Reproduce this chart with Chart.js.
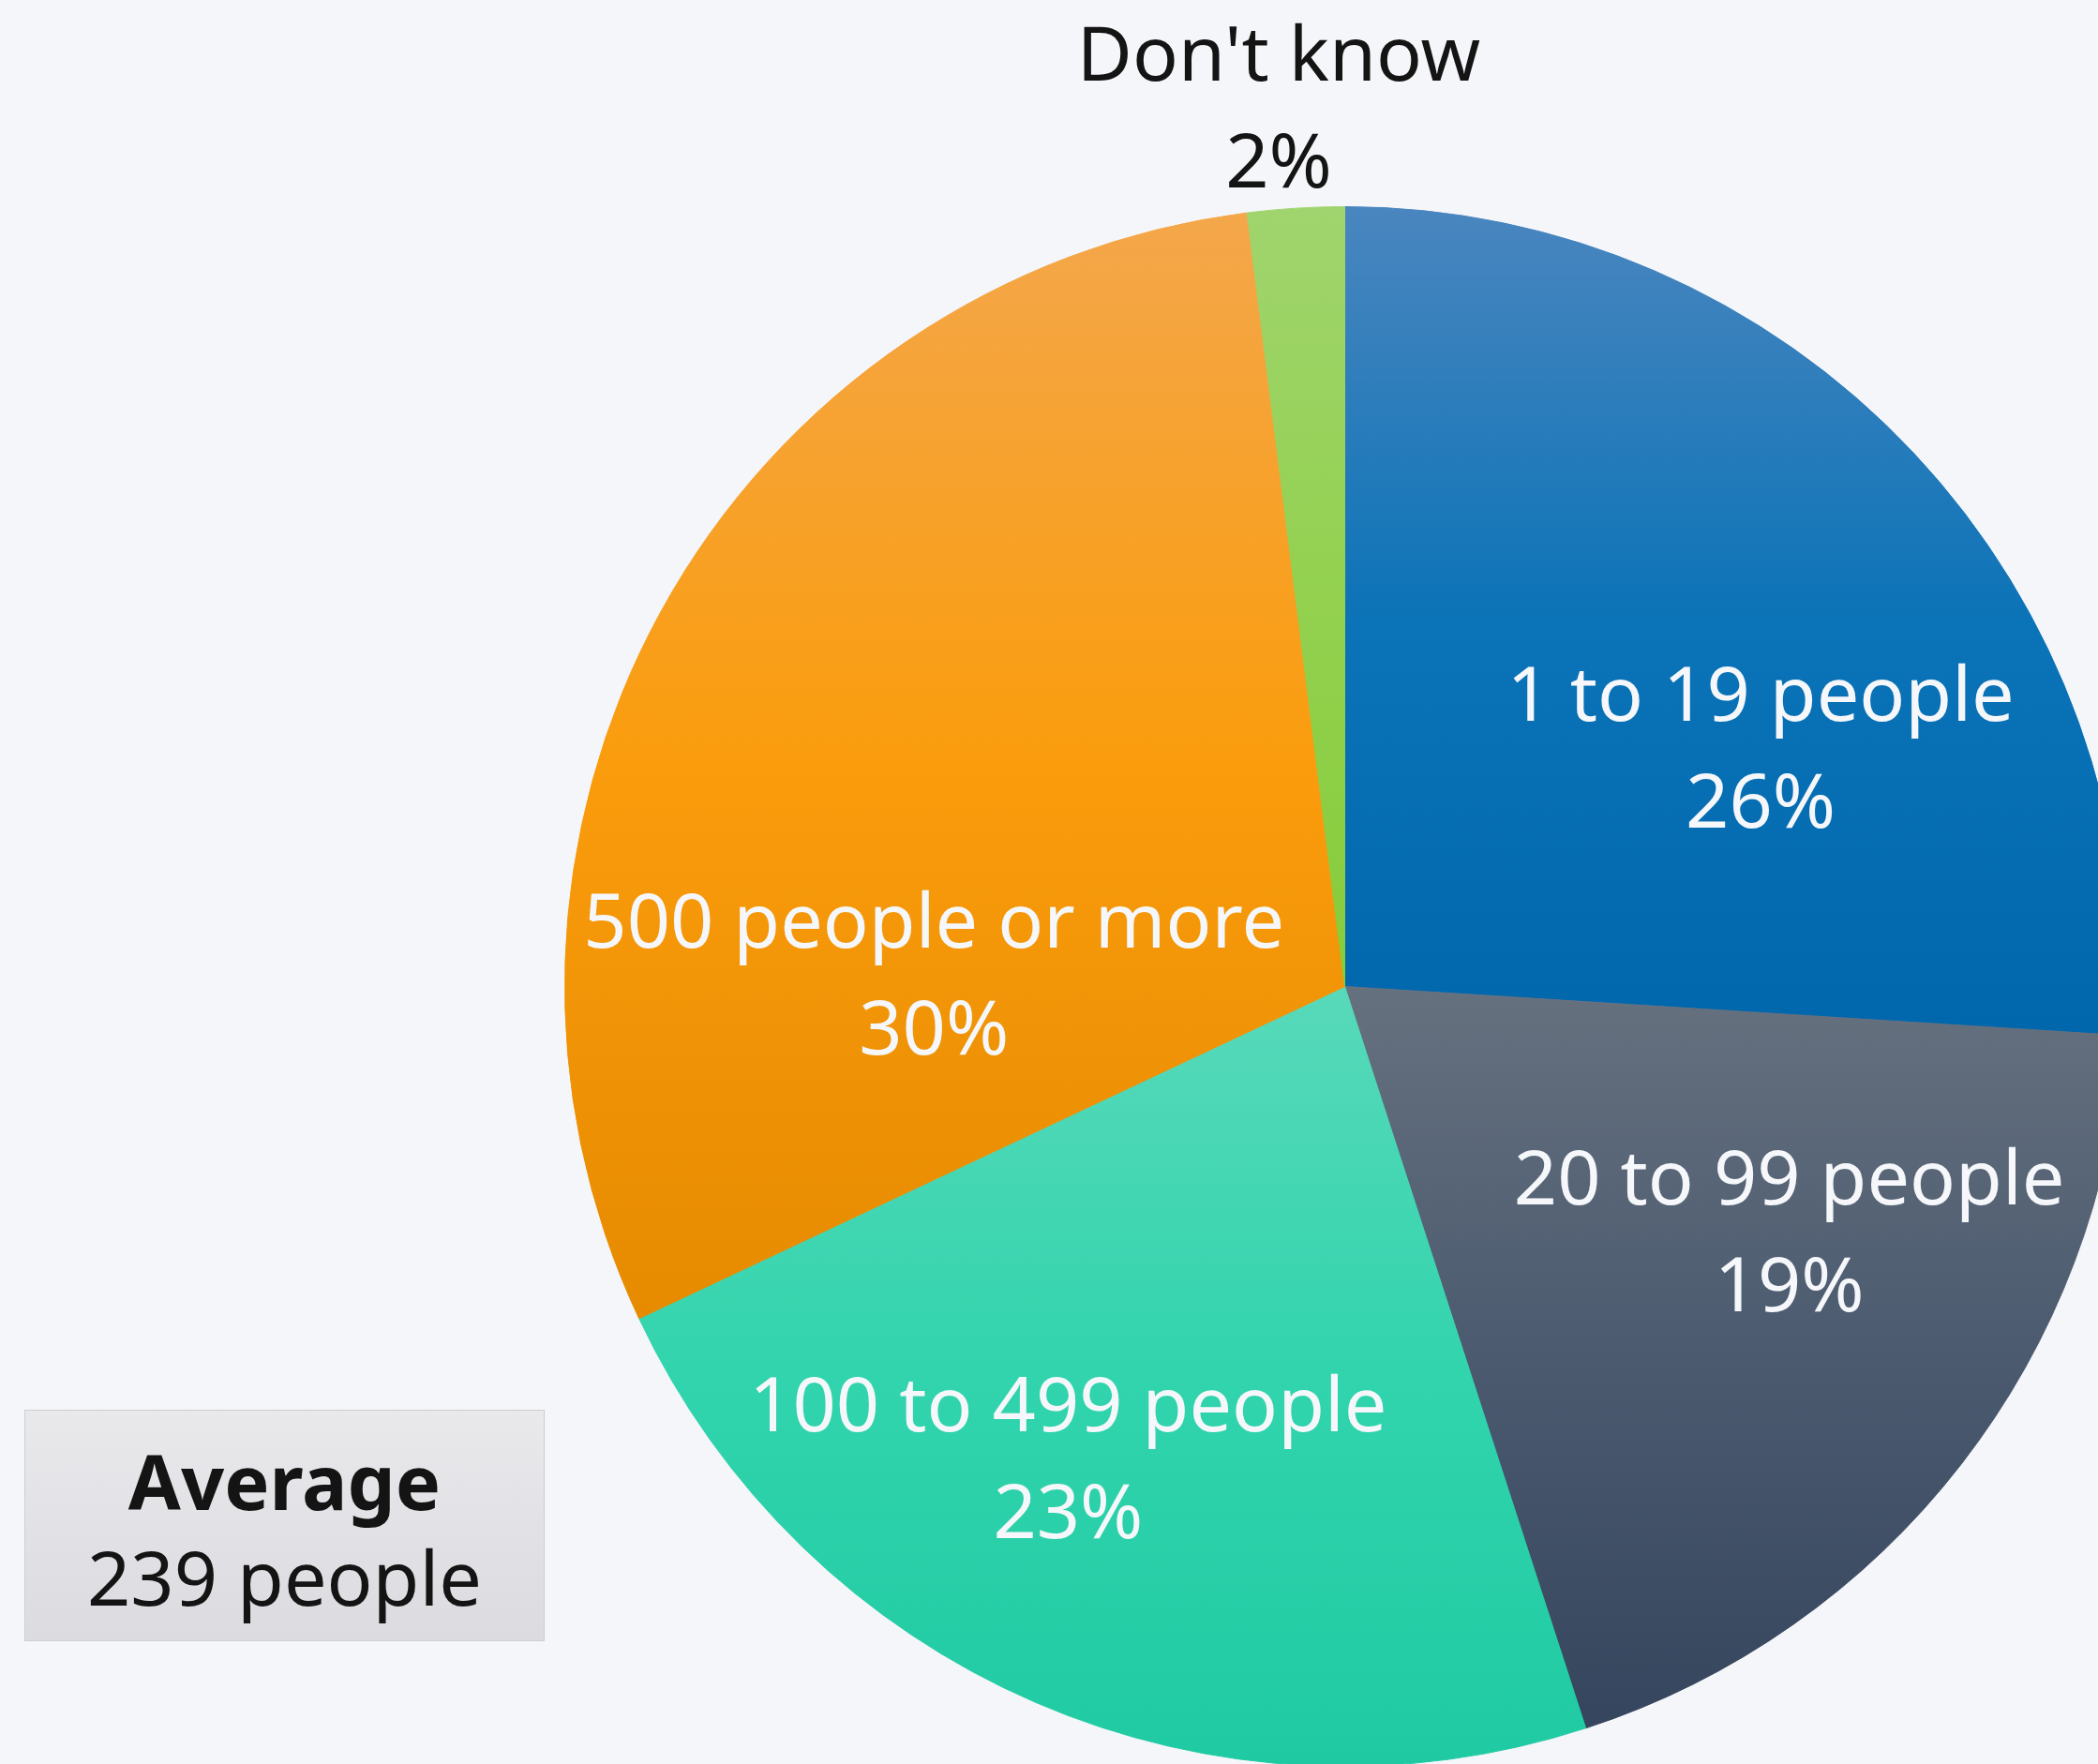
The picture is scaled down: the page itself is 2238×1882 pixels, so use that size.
<!DOCTYPE html>
<html>
<head>
<meta charset="utf-8">
<script src="https://cdn.jsdelivr.net/npm/chart.js@4/dist/chart.umd.min.js"></script>
<style>
    html, body { margin: 0; padding: 0; overflow: hidden; background: #f5f6fa; }
    #wrap { position: absolute; left: 0; top: 0; width: 2300px; height: 1900px; }
    #avg {
        position: absolute; left: 26px; top: 1504px; width: 555px; height: 247px;
        border: 1px solid #cdcdd2;
        background: linear-gradient(#e9e9ec, #dbdbe0);
        display: flex; flex-direction: column; justify-content: center; align-items: center;
        font-family: "Noto Sans", sans-serif; font-size: 81px; line-height: 102px; color: #141414;
        padding-top: 6px; box-sizing: border-box;
    }
    #avg b { font-weight: 700; }
</style>
</head>
<body>
<div id="wrap"><canvas id="pie"></canvas></div>
<div id="avg"><b>Average</b><span>239 people</span></div>
<script>
// --- datos ---
const categories = ['1 to 19 people', '20 to 99 people', '100 to 499 people', '500 people or more', "Don't know"];
const shares = [26, 19, 23, 30, 2];
// light / base / dark por sector
const lightColors = ['#4a86bf', '#66717f', '#58d9ba', '#f4a74b', '#a0d46e'];
const baseColors  = ['#0b73b7', '#4b5a6f', '#31d4ad', '#fa9c0c', '#93d14f'];
const darkColors  = ['#0067ad', '#35455d', '#1fcaa2', '#e68a00', '#86cc3a'];

// gradiente vertical sobre la caja de cada sector
function sliceGradient(ctx) {
    const i = ctx.dataIndex;
    const chart = ctx.chart;
    const area = chart.chartArea;
    if (!area) return baseColors[i];
    const cx = (area.left + area.right) / 2;
    const cy = (area.top + area.bottom) / 2;
    const r = Math.min(area.width, area.height) / 2;
    const total = shares.reduce((a, b) => a + b, 0);
    const before = shares.slice(0, i).reduce((a, b) => a + b, 0);
    const a0 = -Math.PI / 2 + 2 * Math.PI * before / total;
    const a1 = a0 + 2 * Math.PI * shares[i] / total;
    let minY = cy, maxY = cy;
    for (let k = 0; k <= 60; k++) {
        const y = cy + r * Math.sin(a0 + (a1 - a0) * k / 60);
        minY = Math.min(minY, y);
        maxY = Math.max(maxY, y);
    }
    const g = chart.ctx.createLinearGradient(0, minY, 0, maxY);
    g.addColorStop(0, lightColors[i]);
    g.addColorStop(0.5, baseColors[i]);
    g.addColorStop(1, darkColors[i]);
    return g;
}

// posición de etiquetas: desplazamiento angular (grados) y fracción del radio
const labelPlacement = [
    { turn: 13.3, frac: 0.615, color: '#f5f7fa' },
    { turn: -8.9, frac: 0.651, color: '#f5f7fa' },
    { turn: 7.0, frac: 0.701, color: '#f5f7fa' },
    { turn: -27.2, frac: 0.527, color: '#f5f7fa' },
    { turn: -0.7, frac: 1.13, color: '#141414' }
];

const sliceLabels = {
    id: 'sliceLabels',
    afterDatasetsDraw(chart) {
        const ctx = chart.ctx;
        const meta = chart.getDatasetMeta(0);
        ctx.save();
        ctx.font = '81px "Noto Sans", sans-serif';
        ctx.textAlign = 'center';
        ctx.textBaseline = 'middle';
        meta.data.forEach((arc, i) => {
            const p = labelPlacement[i];
            const mid = (arc.startAngle + arc.endAngle) / 2 + p.turn * Math.PI / 180;
            const x = arc.x + Math.cos(mid) * arc.outerRadius * p.frac;
            const y = arc.y + Math.sin(mid) * arc.outerRadius * p.frac + 5;
            ctx.fillStyle = p.color;
            ctx.fillText(categories[i], x, y - 57);
            ctx.fillText(shares[i] + '%', x, y + 57);
        });
        ctx.restore();
    }
};

new Chart(document.getElementById('pie'), {
    type: 'pie',
    data: {
        labels: categories,
        datasets: [{
            data: shares,
            backgroundColor: sliceGradient,
            borderColor: sliceGradient,
            borderWidth: 1,
            hoverOffset: 0
        }]
    },
    options: {
        responsive: true,
        maintainAspectRatio: false,
        animation: false,
        layout: { padding: { left: 602, right: 33, top: 220, bottom: 15 } },
        plugins: {
            legend: { display: false },
            tooltip: { enabled: false }
        }
    },
    plugins: [sliceLabels]
});
</script>
</body>
</html>
